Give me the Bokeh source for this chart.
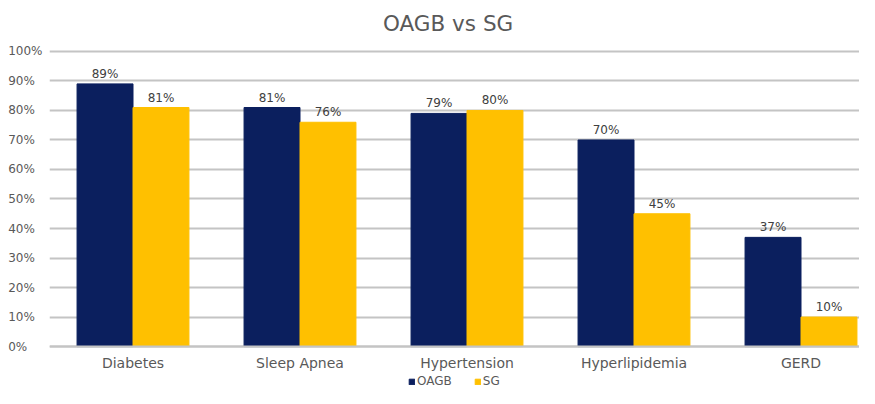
from bokeh.plotting import figure
from bokeh.models import ColumnDataSource, Range1d, FixedTicker, Legend, LegendItem
from bokeh.core.properties import value
from bokeh.embed import file_html
from bokeh.resources import INLINE

categories = ["Diabetes", "Sleep Apnea", "Hypertension", "Hyperlipidemia", "GERD"]
oagb = [0.89, 0.81, 0.79, 0.70, 0.37]
sg = [0.81, 0.76, 0.80, 0.45, 0.10]
y_ticks = [0, 0.1, 0.2, 0.3, 0.4, 0.5, 0.6, 0.7, 0.8, 0.9, 1.0]
y_tick_labels = ["0%", "10%", "20%", "30%", "40%", "50%", "60%", "70%", "80%", "90%", "100%"]
series_names = ["OAGB", "SG"]
colors = ["#0B1F5E", "#FFC000"]

FONT = "DejaVu Sans"
GRAY = "#595959"

# layout geometry (pixels)
W, H = 859, 388
BL, BR, BT, BB = 49, 0, 40, 0
CAT_PX = 167.0          # width of one category band
UNIT_PX = 297.7         # pixels for 0% -> 100%
TOP_GAP = 8.0           # pixels between frame top and the 100% line
FRAME_W = W - BL - BR
FRAME_H = H - BT - BB
y_end = 1 + TOP_GAP / UNIT_PX
y_start = y_end - FRAME_H / UNIT_PX

pos = [i + 0.5 for i in range(len(categories))]
bw = 0.335

src_o = ColumnDataSource(dict(x=[q - bw / 2 for q in pos], top=oagb,
                              lab=[f"{round(v*100)}%" for v in oagb]))
src_s = ColumnDataSource(dict(x=[q + bw / 2 for q in pos], top=sg,
                              lab=[f"{round(v*100)}%" for v in sg]))

p = figure(width=W, height=H,
           x_range=Range1d(0, FRAME_W / CAT_PX), y_range=Range1d(y_start, y_end),
           output_backend="svg", toolbar_location=None,
           min_border_left=BL, min_border_right=BR, min_border_top=BT, min_border_bottom=BB)

p.title.text = "OAGB vs SG"
p.title.align = "left"
p.title.offset = 333.5
p.title.standoff = 16
p.title.text_font = FONT
p.title.text_font_size = "21.5px"
p.title.text_font_style = "normal"
p.title.text_color = GRAY

r1 = p.vbar(x="x", top="top", width=bw, source=src_o, color=colors[0], line_color=colors[0])
r2 = p.vbar(x="x", top="top", width=bw, source=src_s, color=colors[1], line_color=colors[1])

for src in (src_o, src_s):
    p.text(x="x", y="top", text="lab", source=src, text_align="center",
           text_baseline="bottom", y_offset=-3, text_font=value(FONT),
           text_font_size="12px", text_color="#404040")

p.outline_line_color = None
p.xgrid.grid_line_color = None
p.ygrid.grid_line_color = "#c4c4c4"
p.ygrid.grid_line_width = 2
p.ygrid.ticker = FixedTicker(ticks=y_ticks)

# pad labels on the right with figure spaces so they appear left-aligned
maxlen = max(len(s) for s in y_tick_labels)
p.yaxis.ticker = FixedTicker(ticks=y_ticks)
p.yaxis.major_label_overrides = {t: s + "\u2007" * (maxlen - len(s))
                                 for t, s in zip(y_ticks, y_tick_labels)}
p.yaxis.axis_line_color = None
p.yaxis.major_tick_line_color = None
p.yaxis.minor_tick_line_color = None
p.yaxis.major_label_text_font = FONT
p.yaxis.major_label_text_font_size = "12px"
p.yaxis.major_label_text_color = GRAY
p.yaxis.major_label_standoff = 1

p.xaxis.fixed_location = 0
p.xaxis.ticker = FixedTicker(ticks=pos)
p.xaxis.major_label_overrides = {q: c for q, c in zip(pos, categories)}
p.xaxis.axis_line_color = "#c4c4c4"
p.xaxis.axis_line_width = 2
p.xaxis.major_tick_line_color = None
p.xaxis.minor_tick_line_color = None
p.xaxis.major_label_text_font = FONT
p.xaxis.major_label_text_font_size = "14px"
p.xaxis.major_label_text_color = GRAY
p.xaxis.major_label_standoff = 2

legend = Legend(items=[LegendItem(label=series_names[0], renderers=[r1]),
                       LegendItem(label=series_names[1], renderers=[r2])],
                orientation="horizontal", location=(359, 0),
                label_text_font=FONT, label_text_font_size="12px",
                label_text_color=GRAY, glyph_width=7, glyph_height=7,
                label_standoff=2, spacing=22, padding=0, margin=0,
                border_line_color=None, background_fill_alpha=0, label_height=12)
p.add_layout(legend)

open("out.html", "w").write(file_html(p, INLINE))
